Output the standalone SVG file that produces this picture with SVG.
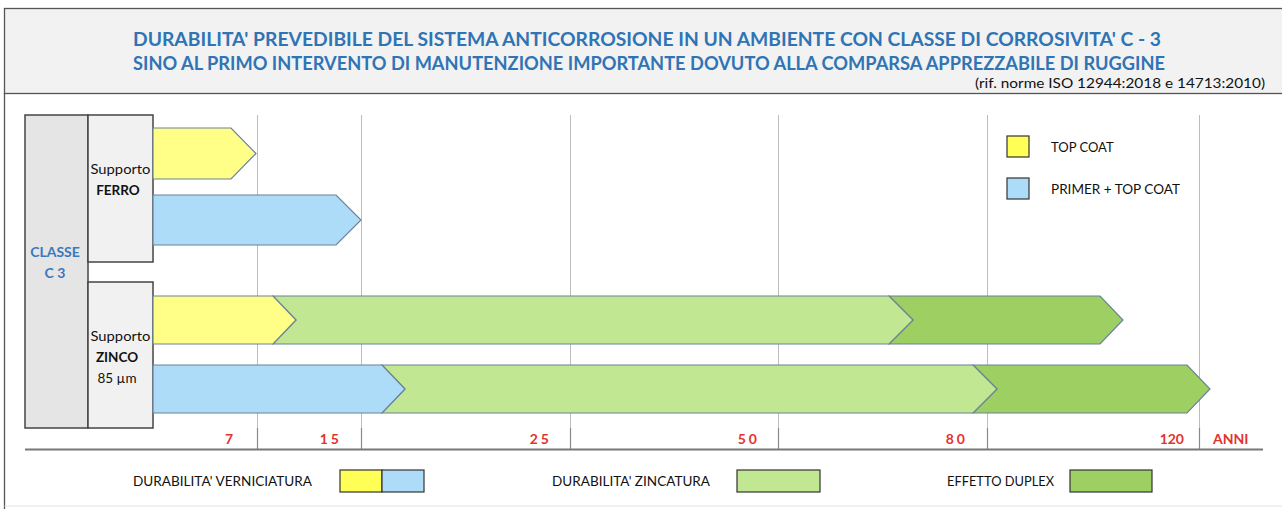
<svg xmlns="http://www.w3.org/2000/svg" width="1282" height="509" viewBox="0 0 1282 509">
  <style>
    text { font-family: Lato, "Open Sans", "Liberation Sans", sans-serif; }
    .title { font-size: 18.5px; font-weight: bold; fill: #2f74b5; }
    .ref { font-size: 12.5px; fill: #111; }
    .lbl { font-size: 13.5px; fill: #111; }
    .lblb { font-size: 13.5px; font-weight: bold; fill: #111; }
    .cls { font-size: 14px; font-weight: bold; fill: #3a78bd; }
    .ax { font-size: 14px; font-weight: bold; fill: #e2332f; }
    .leg { font-size: 13px; fill: #111; }
    .grid { stroke: #bdbdbd; stroke-width: 1; }
    .tick { stroke: #8a8a8a; stroke-width: 1.2; }
    .bar { stroke: #6b8198; stroke-width: 1.2; stroke-linejoin: miter; }
    .yel { fill: #ffff88; }
    .blu { fill: #acdcf7; }
    .lg { fill: #c2e792; }
    .dg { fill: #9ecf62; }
    .box { stroke: #444; stroke-width: 1.5; }
    .lbox { stroke: #333; stroke-width: 1.2; }
  </style>

  <g id="frame">
    <rect x="0" y="0" width="1282" height="509" fill="#ffffff"/>
    <rect x="4.5" y="8.5" width="1280" height="85" fill="#f2f2f2" stroke="#555" stroke-width="1.3"/>
    <line x1="4.5" y1="93" x2="4.5" y2="509" stroke="#555" stroke-width="1.3"/>
    <line x1="4.5" y1="506" x2="1282" y2="506" stroke="#e2e2e2" stroke-width="1"/>
  </g>

  <g id="header">
    <text class="title" x="647" y="46" text-anchor="middle" textLength="1028" lengthAdjust="spacingAndGlyphs">DURABILITA'  PREVEDIBILE DEL  SISTEMA  ANTICORROSIONE  IN  UN AMBIENTE  CON  CLASSE  DI  CORROSIVITA'  C - 3</text>
    <text class="title" x="649" y="70" text-anchor="middle" textLength="1032" lengthAdjust="spacingAndGlyphs">SINO AL PRIMO INTERVENTO DI MANUTENZIONE IMPORTANTE DOVUTO ALLA COMPARSA APPREZZABILE DI RUGGINE</text>
    <text class="ref" x="1265" y="88" text-anchor="end" textLength="290" lengthAdjust="spacingAndGlyphs">(rif. norme ISO 12944:2018  e 14713:2010)</text>
  </g>

  <g id="grid">
    <line class="grid" x1="257.5" y1="115" x2="257.5" y2="449"/>
    <line class="grid" x1="361.5" y1="115" x2="361.5" y2="449"/>
    <line class="grid" x1="570.5" y1="115" x2="570.5" y2="449"/>
    <line class="grid" x1="778.5" y1="115" x2="778.5" y2="449"/>
    <line class="grid" x1="987.5" y1="115" x2="987.5" y2="449"/>
    <line class="grid" x1="1199.5" y1="115" x2="1199.5" y2="449"/>
    <line class="tick" x1="257.5" y1="428" x2="257.5" y2="449"/>
    <line class="tick" x1="361.5" y1="428" x2="361.5" y2="449"/>
    <line class="tick" x1="570.5" y1="428" x2="570.5" y2="449"/>
    <line class="tick" x1="778.5" y1="428" x2="778.5" y2="449"/>
    <line class="tick" x1="987.5" y1="428" x2="987.5" y2="449"/>
    <line class="tick" x1="1199.5" y1="428" x2="1199.5" y2="449"/>
    <line x1="25" y1="449.5" x2="1263" y2="449.5" stroke="#777" stroke-width="2"/>
  </g>

  <g id="classe">
    <rect class="box" x="25" y="115" width="63" height="313" fill="#e5e5e5"/>
    <text class="cls" x="55" y="257" text-anchor="middle">CLASSE</text>
    <text class="cls" x="55" y="278" text-anchor="middle">C 3</text>
  </g>

  <g id="supporto-ferro">
    <rect class="box" x="88" y="115" width="65" height="147" fill="#f1f1f1"/>
    <text class="lbl" x="120.5" y="174" text-anchor="middle" textLength="60" lengthAdjust="spacingAndGlyphs">Supporto</text>
    <text class="lblb" x="118" y="194.5" text-anchor="middle">FERRO</text>
  </g>

  <g id="supporto-zinco">
    <rect class="box" x="88" y="282" width="65" height="146" fill="#f1f1f1"/>
    <text class="lbl" x="120.5" y="341" text-anchor="middle" textLength="60" lengthAdjust="spacingAndGlyphs">Supporto</text>
    <text class="lblb" x="117" y="361.5" text-anchor="middle">ZINCO</text>
    <text class="lbl" x="117" y="382.5" text-anchor="middle">85 µm</text>
  </g>

  <g id="bars-ferro">
    <polygon class="bar yel" points="153,128 231,128 256,153.5 231,179 153,179"/>
    <polygon class="bar blu" points="153,195 336,195 361,220 336,245 153,245"/>
  </g>

  <g id="bars-zinco-topcoat">
    <polygon class="bar dg" points="889,296 1100,296 1123,320 1100,344 889,344 913,320"/>
    <polygon class="bar lg" points="273,296 889,296 913,320 889,344 273,344 296,320"/>
    <polygon class="bar yel" points="153,296 273,296 296,320 273,344 153,344"/>
  </g>

  <g id="bars-zinco-primer">
    <polygon class="bar dg" points="973,365 1187,365 1210,389 1187,413 973,413 997,389"/>
    <polygon class="bar lg" points="382,365 973,365 997,389 973,413 382,413 405,389"/>
    <polygon class="bar blu" points="153,365 382,365 405,389 382,413 153,413"/>
  </g>

  <g id="axis-labels">
    <text class="ax" x="233" y="443.5" text-anchor="end">7</text>
    <text class="ax" x="342" y="443.5" text-anchor="end" letter-spacing="3">15</text>
    <text class="ax" x="552" y="443.5" text-anchor="end" letter-spacing="3">25</text>
    <text class="ax" x="760" y="443.5" text-anchor="end" letter-spacing="3">50</text>
    <text class="ax" x="968" y="443.5" text-anchor="end" letter-spacing="3">80</text>
    <text class="ax" x="1184" y="443.5" text-anchor="end">120</text>
    <text class="ax" x="1213" y="443.5">ANNI</text>
  </g>

  <g id="legend-top">
    <rect class="lbox" x="1007" y="136" width="22" height="21" fill="#ffff55"/>
    <text class="leg" x="1051" y="152">TOP COAT</text>
    <rect class="lbox blu" x="1007" y="178" width="22" height="21"/>
    <text class="leg" x="1051" y="194" textLength="129" lengthAdjust="spacingAndGlyphs">PRIMER + TOP COAT</text>
  </g>

  <g id="legend-bottom">
    <text class="leg" x="133" y="486" textLength="179" lengthAdjust="spacingAndGlyphs">DURABILITA' VERNICIATURA</text>
    <rect class="lbox" x="340" y="470" width="42" height="22" fill="#ffff55"/>
    <rect class="lbox blu" x="382" y="470" width="42" height="22"/>
    <text class="leg" x="552" y="486" textLength="158" lengthAdjust="spacingAndGlyphs">DURABILITA' ZINCATURA</text>
    <rect class="lbox lg" x="737" y="470" width="83" height="22"/>
    <text class="leg" x="947" y="486" textLength="107" lengthAdjust="spacingAndGlyphs">EFFETTO DUPLEX</text>
    <rect class="lbox dg" x="1070" y="470" width="82" height="22"/>
  </g>
</svg>
